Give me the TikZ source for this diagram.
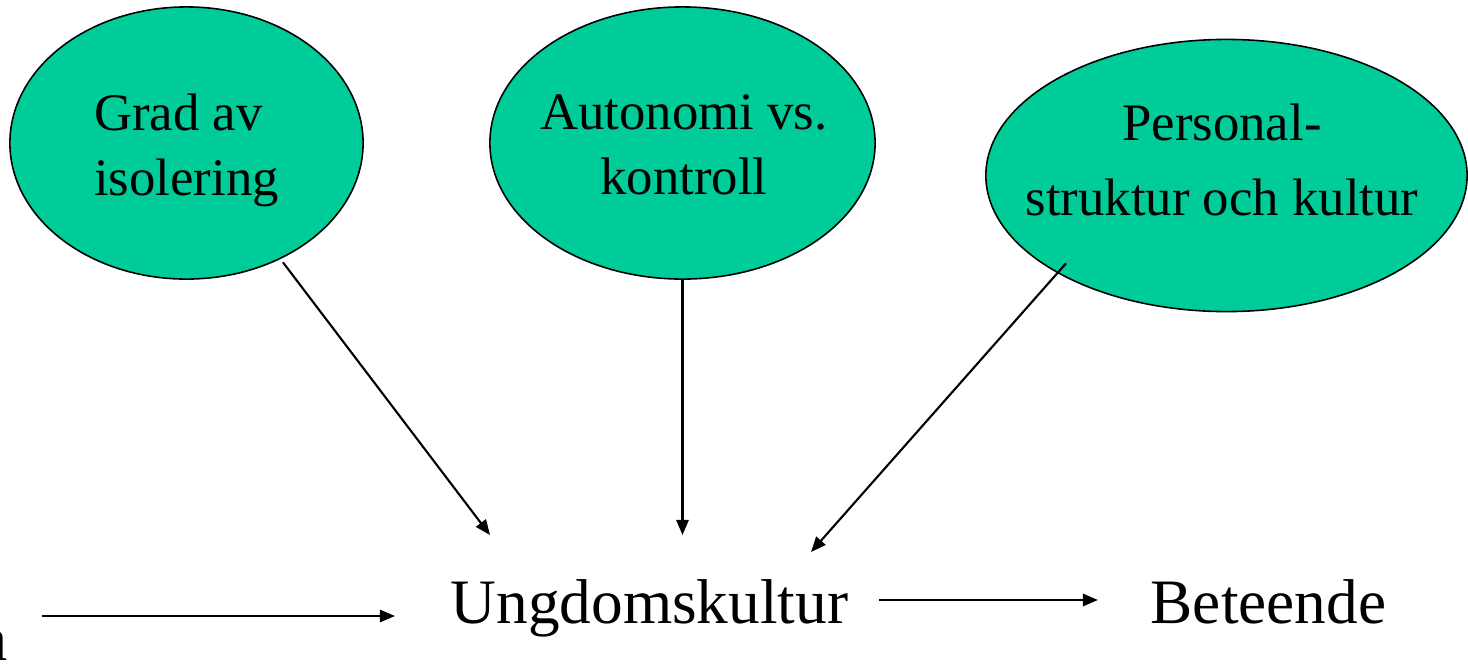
\documentclass[tikz,border=0pt]{standalone}
\usepackage{fontspec}
\setmainfont{Liberation Serif}
\usepackage{xcolor}
\usetikzlibrary{shapes.geometric, arrows.meta}

\definecolor{blobgreen}{RGB}{0,204,153}

\tikzset{
    blob/.style={ellipse, draw=black, line width=0.45pt, fill=blobgreen, inner sep=0pt},
    blobtext/.style={inner sep=0pt, font=\fontsize{15}{18.5}\selectfont},
    word/.style={inner sep=0pt, anchor=base west, text height=0.6cm, text depth=0.14cm,
        font=\fontsize{18}{22}\selectfont},
    pil/.style={line width=0.6pt, -{Triangle[length=4.3pt, width=3.5pt]}}
}

\begin{document}
\begin{tikzpicture}[x=0.01cm, y=-0.01cm]
        \useasboundingbox (0, 0) rectangle (1468, 672);

        % Ellipses
        \node[blob, minimum width=3.53cm, minimum height=2.72cm] (grad) at (186.5, 143) {};
        \node[blobtext, align=left] (gradtext) at (186.5, 150) {Grad av\\isolering};

        \node[blob, minimum width=3.85cm, minimum height=2.72cm] (auto) at (682.5, 143) {};
        \node[blobtext, align=center] (autotext) at (684, 144.5) {Autonomi vs.\\kontroll};

        \node[blob, minimum width=4.81cm, minimum height=2.72cm] (pers) at (1226.5, 175.5) {};
        \node[blobtext, align=center, font=\fontsize{15}{21.3}\selectfont] (perstext) at (1222, 159.5)
            {Personal-\\struktur och kultur};

        % Bottom row
        \node[word, anchor=base east] (rest) at (8, 660) {a};
        \node[word] (ung) at (450, 623) {Ungdomskultur};
        \node[word] (bet) at (1150, 623) {Beteende};

        \coordinate (tipG) at (490, 535);
        \coordinate (tipA) at (682.5, 535);
        \coordinate (tipP) at (811, 552);
        \coordinate (inn) at (42, 616);

        % Arrows
        \draw[pil, shorten <=0.04cm] (grad.-51) -- (tipG);
        \draw[pil] (auto.south) -- (tipA);
        \draw[pil, shorten <=-0.13cm] (pers.210) -- (tipP);
        \draw[pil, shorten >=0.55cm] (inn) -- (ung.west |- inn);
        \draw[pil, shorten <=0.3cm, shorten >=0.52cm] (ung.east) -- (bet.west);
\end{tikzpicture}
\end{document}
